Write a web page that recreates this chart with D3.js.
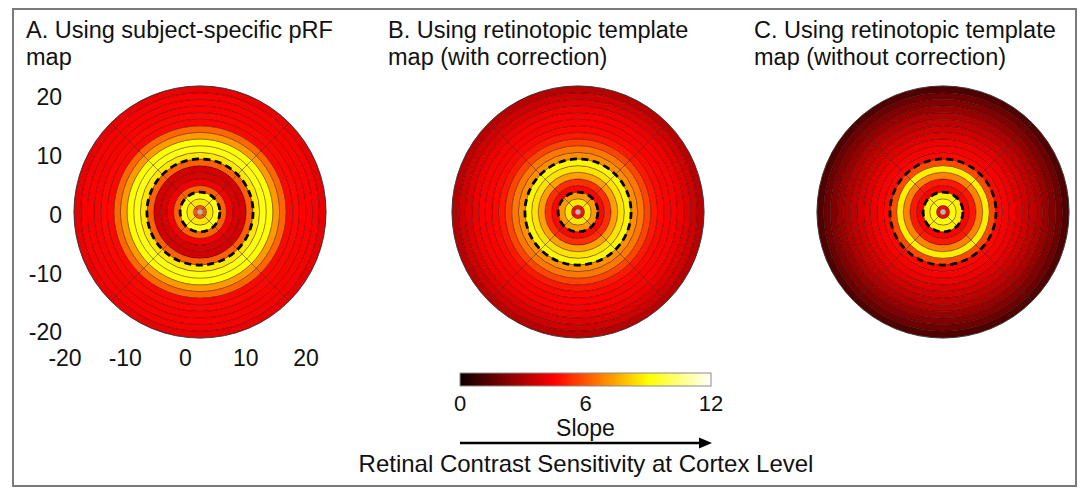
<!DOCTYPE html>
<html>
<head>
<meta charset="utf-8">
<script src="https://cdn.jsdelivr.net/npm/d3@7"></script>
<style>
  body { margin: 0; background: #fff; }
  svg { display: block; }
  text { font-family: "Liberation Sans", Arial, sans-serif; fill: #111; }
</style>
</head>
<body>
<svg id="fig" width="1086" height="488"></svg>
<script>
// Eccentricity ring edges (ring units, centre outward)
const ringEdges = [0, 1, 2, 3, 4, 5, 6, 7, 8, 9, 10, 11, 12, 13, 14, 15, 16, 17, 18, 19];

// Slope per eccentricity ring, centre outward
const slopeA = [6.0, 8.6, 9.2, 6.2, 4.3, 3.8, 3.7, 6.2, 8.6, 9.2, 9.0, 7.2, 6.3, 4.6, 4.6, 4.5, 4.5, 4.4, 4.1];
const slopeB = [4.8, 8.6, 7.2, 4.6, 5.3, 7.3, 8.5, 8.9, 7.0, 6.6, 5.7, 4.9, 4.6, 4.5, 4.4, 4.2, 3.9, 3.6, 3.2];
const slopeC = [4.6, 9.0, 8.7, 4.5, 4.9, 6.8, 8.7, 5.8, 4.6, 4.4, 4.2, 3.9, 3.6, 3.3, 3.0, 2.6, 2.2, 1.8, 1.3];

// Dashed boundaries, in ring units
const boundaryRings = [3, 8];

// Angular sector boundaries (degrees, clockwise from top)
const sectorEdges = [45, 135, 225, 315, 405];

// Axis tick labels of panel A
const yTicks = [20, 10, 0, -10, -20];
const xTicks = [-20, -10, 0, 10, 20];

// Colour bar
const colorTicks = [0, 6, 12];

const panelTitles = [
  ["A. Using subject-specific pRF", "map"],
  ["B. Using retinotopic template", "map (with correction)"],
  ["C. Using retinotopic template", "map (without correction)"]
];
const panelSlopes = [slopeA, slopeB, slopeC];

// ---------------------------------------------------------------------------
const svg = d3.select("#fig");

// MATLAB-style "hot" colormap over the slope range 0–12
const hot = d3.scaleLinear()
  .domain([0, 4.5, 9, 12])
  .range(["#0b0000", "#ff0000", "#ffff00", "#ffffff"])
  .interpolate(d3.interpolateRgb)
  .clamp(true);

// Figure frame
svg.append("rect")
  .attr("x", 13).attr("y", 9).attr("width", 1063).attr("height", 477)
  .attr("fill", "none").attr("stroke", "#7a7a7a").attr("stroke-width", 2);

const centersX = [200, 578, 943];
const centerY = 212;
const titleX = [26, 388, 754];

const rScale = d3.scaleLinear().domain([0, 19]).range([0, 126]);
const deg = Math.PI / 180;

panelSlopes.forEach((slopes, p) => {
  // title
  const t = svg.append("text")
    .attr("x", titleX[p]).attr("y", 38)
    .attr("font-size", 23.5);
  panelTitles[p].forEach((line, i) => {
    t.append("tspan").attr("x", titleX[p]).attr("y", 38 + i * 27).text(line);
  });

  const g = svg.append("g").attr("transform", `translate(${centersX[p]},${centerY})`);

  // ring × sector cells
  const cells = [];
  slopes.forEach((v, i) => {
    for (let s = 0; s < sectorEdges.length - 1; s++) {
      cells.push({ i, v, a0: sectorEdges[s] * deg, a1: sectorEdges[s + 1] * deg });
    }
  });

  const arc = d3.arc()
    .innerRadius(d => rScale(ringEdges[d.i]))
    .outerRadius(d => rScale(ringEdges[d.i] + 1))
    .startAngle(d => d.a0)
    .endAngle(d => d.a1);

  g.selectAll("path.cell").data(cells).join("path")
    .attr("class", "cell")
    .attr("d", arc)
    .attr("fill", d => hot(d.v))
    .attr("stroke", "#2a0000")
    .attr("stroke-opacity", 0.6)
    .attr("stroke-width", 0.6);

  // outer rim
  g.append("circle").attr("r", rScale(19))
    .attr("fill", "none").attr("stroke", "#3a3a3a").attr("stroke-width", 0.9);

  // dashed boundaries
  g.selectAll("circle.dash").data(boundaryRings).join("circle")
    .attr("class", "dash")
    .attr("r", d => rScale(d))
    .attr("fill", "none")
    .attr("stroke", "#000")
    .attr("stroke-width", 2.8)
    .attr("stroke-dasharray", "7 4.5");

  // fovea marker
  g.append("circle").attr("r", 2.7)
    .attr("fill", "#b9b9b9").attr("stroke", "#8a8a8a").attr("stroke-width", 0.6);
});

// Panel A axis labels
const yLab = d3.scaleLinear().domain([-20, 20]).range([332, 97]);
svg.selectAll("text.ytick").data(yTicks).join("text")
  .attr("class", "ytick")
  .attr("x", 62).attr("y", d => yLab(d))
  .attr("dy", "0.36em")
  .attr("text-anchor", "end")
  .attr("font-size", 23)
  .text(d => d);

const xLab = d3.scaleLinear().domain([-20, 20]).range([65, 306]);
svg.selectAll("text.xtick").data(xTicks).join("text")
  .attr("class", "xtick")
  .attr("x", d => xLab(d)).attr("y", 366)
  .attr("text-anchor", "middle")
  .attr("font-size", 23)
  .text(d => d);

// Colour bar
const cbX = d3.scaleLinear().domain([0, 12]).range([460, 711]);
const defs = svg.append("defs");
const grad = defs.append("linearGradient").attr("id", "hotGrad")
  .attr("x1", "0%").attr("x2", "100%").attr("y1", "0%").attr("y2", "0%");
hot.domain().forEach(v => {
  grad.append("stop").attr("offset", (v / 12 * 100) + "%").attr("stop-color", hot(v));
});
svg.append("rect")
  .attr("x", cbX(0)).attr("y", 373)
  .attr("width", cbX(12) - cbX(0)).attr("height", 13)
  .attr("fill", "url(#hotGrad)")
  .attr("stroke", "#8c8c8c").attr("stroke-width", 1);

svg.selectAll("text.cbtick").data(colorTicks).join("text")
  .attr("class", "cbtick")
  .attr("x", d => cbX(d)).attr("y", 411)
  .attr("text-anchor", "middle")
  .attr("font-size", 22)
  .text(d => d);

svg.append("text")
  .attr("x", cbX(6)).attr("y", 436)
  .attr("text-anchor", "middle")
  .attr("font-size", 23)
  .text("Slope");

// Arrow
svg.append("line")
  .attr("x1", cbX(0)).attr("x2", cbX(12) - 10)
  .attr("y1", 443).attr("y2", 443)
  .attr("stroke", "#000").attr("stroke-width", 2.6);
svg.append("path")
  .attr("d", `M${cbX(12) + 1},443 L${cbX(12) - 12},437.5 L${cbX(12) - 12},448.5 Z`)
  .attr("fill", "#000");

svg.append("text")
  .attr("x", 586).attr("y", 472)
  .attr("text-anchor", "middle")
  .attr("font-size", 24)
  .text("Retinal Contrast Sensitivity at Cortex Level");
</script>
</body>
</html>
